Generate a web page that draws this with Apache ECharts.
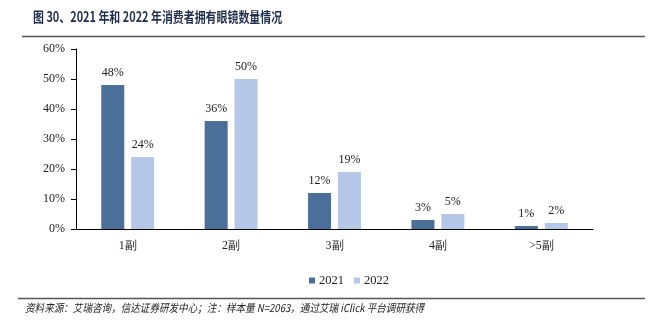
<!DOCTYPE html>
<html>
<head>
<meta charset="utf-8">
<script src="https://cdn.jsdelivr.net/npm/echarts@6/dist/echarts.min.js"></script>
<style>html,body{margin:0;padding:0;background:#fff;}#c{width:663px;height:329px;}</style>
</head>
<body>
<div id="c"></div>
<script>
const categories = ['1副', '2副', '3副', '4副', '>5副'];
const seriesNames = ['2021', '2022'];
const values2021 = [48, 36, 12, 3, 1];
const values2022 = [24, 50, 19, 5, 2];
const yTicks = [0, 10, 20, 30, 40, 50, 60];

const chart = echarts.init(document.getElementById('c'));
const serif = '"Liberation Serif", "Times New Roman", serif';
chart.setOption({
  animation: false,
  backgroundColor: '#fff',
  grid: { left: 76, top: 49, right: 70, bottom: 100 },
  legend: {
    data: seriesNames,
    top: 269, left: 304,
    icon: 'rect', itemWidth: 6, itemHeight: 6, itemGap: 10,
    textStyle: { fontFamily: serif, fontSize: 12.5, color: '#222', padding: [0, 0, 0, -1] }
  },
  xAxis: {
    type: 'category',
    data: categories,
    axisLine: { lineStyle: { color: '#000', width: 1 } },
    axisTick: { inside: true, length: 4, lineStyle: { color: '#000' } },
    axisLabel: { fontFamily: serif, fontSize: 12, color: '#222', margin: 11 }
  },
  yAxis: {
    type: 'value',
    min: yTicks[0], max: yTicks[yTicks.length - 1], interval: 10,
    axisLine: { show: true, lineStyle: { color: '#000', width: 1 } },
    axisTick: { show: true, length: 5, lineStyle: { color: '#000' } },
    splitLine: { show: false },
    axisLabel: { fontFamily: serif, fontSize: 12, color: '#222', margin: 11, formatter: v => v + '%' }
  },
  series: [
    {
      name: seriesNames[0], type: 'bar', data: values2021,
      barWidth: 23, barGap: '30%',
      itemStyle: { color: '#4a6f98' },
      label: { show: true, position: 'top', distance: 6, fontFamily: serif, fontSize: 12, color: '#222', formatter: p => p.value + '%' }
    },
    {
      name: seriesNames[1], type: 'bar', data: values2022,
      barWidth: 23,
      itemStyle: { color: '#b4c7e7' },
      label: { show: true, position: 'top', distance: 6, fontFamily: serif, fontSize: 12, color: '#222', formatter: p => p.value + '%' }
    }
  ],
  graphic: [
    { type: 'text', x: 33, y: 10, scaleX: 0.78, style: { text: '图 30、2021 年和 2022 年消费者拥有眼镜数量情况', font: 'bold 14px "Noto Sans CJK SC", sans-serif', fill: '#1f2d4f' } },
    { type: 'line', shape: { x1: 22, y1: 36.5, x2: 645, y2: 36.5 }, style: { stroke: '#555', lineWidth: 1.5 } },
    { type: 'line', shape: { x1: 18, y1: 298.5, x2: 645, y2: 298.5 }, style: { stroke: '#555', lineWidth: 1.5 } },
    { type: 'text', x: 25, y: 302, scaleX: 0.87, style: { text: '资料来源：艾瑞咨询，信达证券研发中心；注：样本量 N=2063，通过艾瑞 iClick 平台调研获得', font: 'italic 11px "Noto Sans CJK SC", sans-serif', fill: '#222' } }
  ]
});
</script>
</body>
</html>
